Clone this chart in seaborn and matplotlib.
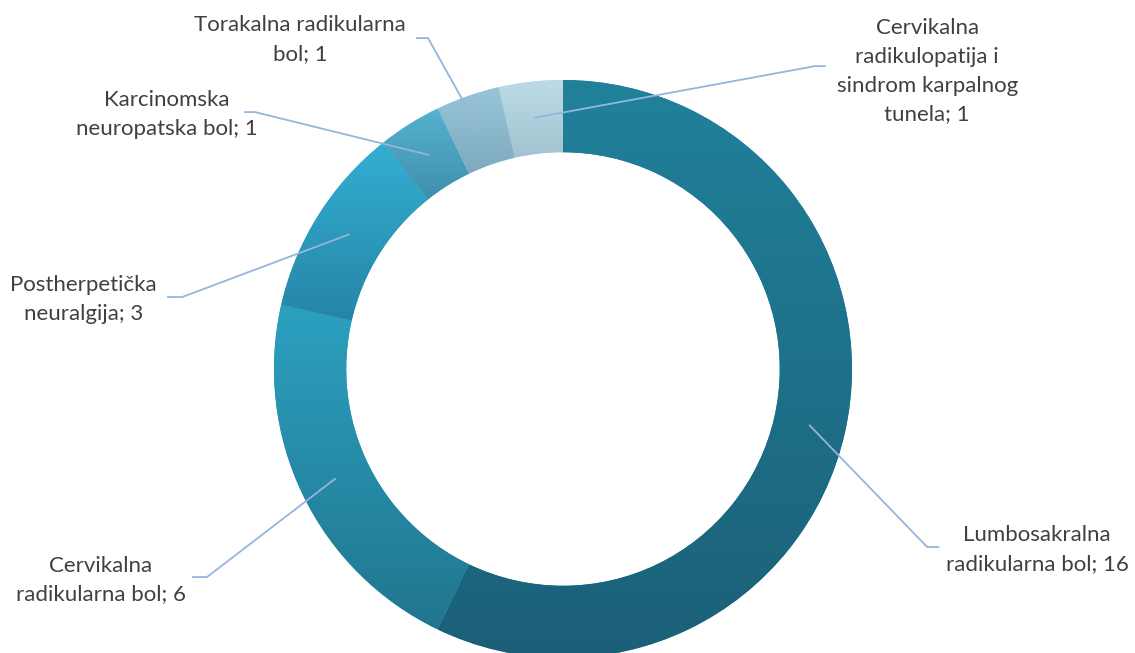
import matplotlib
matplotlib.use("Agg")
import matplotlib.pyplot as plt
import seaborn as sns
import numpy as np
from matplotlib.colors import LinearSegmentedColormap

# data
names = ["Lumbosakralna\nradikularna bol",
         "Cervikalna\nradikularna bol",
         "Postherpetička\nneuralgija",
         "Karcinomska\nneuropatska bol",
         "Torakalna radikularna\nbol",
         "Cervikalna\nradikulopatija i\nsindrom karpalnog\ntunela"]
values = [16, 6, 3, 1, 1, 1]

# per-slice gradient (top colour, bottom colour)
top_colors = ["#21819b", "#2ca0c0", "#33afd3", "#55b2d0", "#98c6d8", "#bcdbe6"]
bottom_colors = ["#1b6078", "#21768f", "#2685a6", "#3f8fab", "#7ea9be", "#a2c2d1"]

# label placement (data units, radius = 1)
label_xy = [(1.64, -0.625), (-1.60, -0.73), (-1.66, 0.24),
            (-1.37, 0.88), (-0.91, 1.14), (1.26, 1.03)]
elbow_xy = [(1.26, -0.616), (-1.232, -0.720), (-1.318, 0.249),
            (-1.066, 0.889), (-0.467, 1.145), (0.872, 1.048)]
hook_dx = [0.04, -0.05, -0.05, -0.035, -0.04, 0.035]

sns.set_theme(style="white")
plt.rcParams['font.family'] = ['Lato', 'DejaVu Sans']

fig = plt.figure(figsize=(11.35, 6.53), dpi=100)
W, H = 1135, 653
cx, cy, r = 563, 369, 289
ax = fig.add_axes([(cx - r) / W, (H - cy - r) / H, 2 * r / W, 2 * r / H])

wedges, _ = ax.pie(values, startangle=90, counterclock=False, radius=1,
                   colors=sns.color_palette(top_colors),
                   wedgeprops=dict(width=0.25, linewidth=0))

grad = np.linspace(0, 1, 256).reshape(-1, 1)
for w, c1, c2 in zip(wedges, top_colors, bottom_colors):
    bb = w.get_path().get_extents()
    cmap = LinearSegmentedColormap.from_list("g", [c1, c2])
    im = ax.imshow(grad, extent=(bb.x0, bb.x1, bb.y0, bb.y1), cmap=cmap,
                   aspect='auto', origin='upper', interpolation='bilinear',
                   zorder=2)
    im.set_clip_path(w)

# leader lines and labels
for w, name, v, lxy, exy, hd in zip(wedges, names, values, label_xy, elbow_xy, hook_dx):
    ang = np.deg2rad((w.theta1 + w.theta2) / 2)
    sx, sy = 0.875 * np.cos(ang), 0.875 * np.sin(ang)
    ax.plot([sx, exy[0], exy[0] + hd], [sy, exy[1], exy[1]],
            color="#94b6dc", lw=1.3, zorder=5, clip_on=False)
    ax.text(lxy[0], lxy[1], f"{name}; {v}", ha='center', va='center',
            multialignment='center', fontsize=16, color="#404040",
            linespacing=1.55)

ax.set_xlim(-1, 1)
ax.set_ylim(-1, 1)
ax.axis('off')

plt.savefig("out.png", dpi=100)
